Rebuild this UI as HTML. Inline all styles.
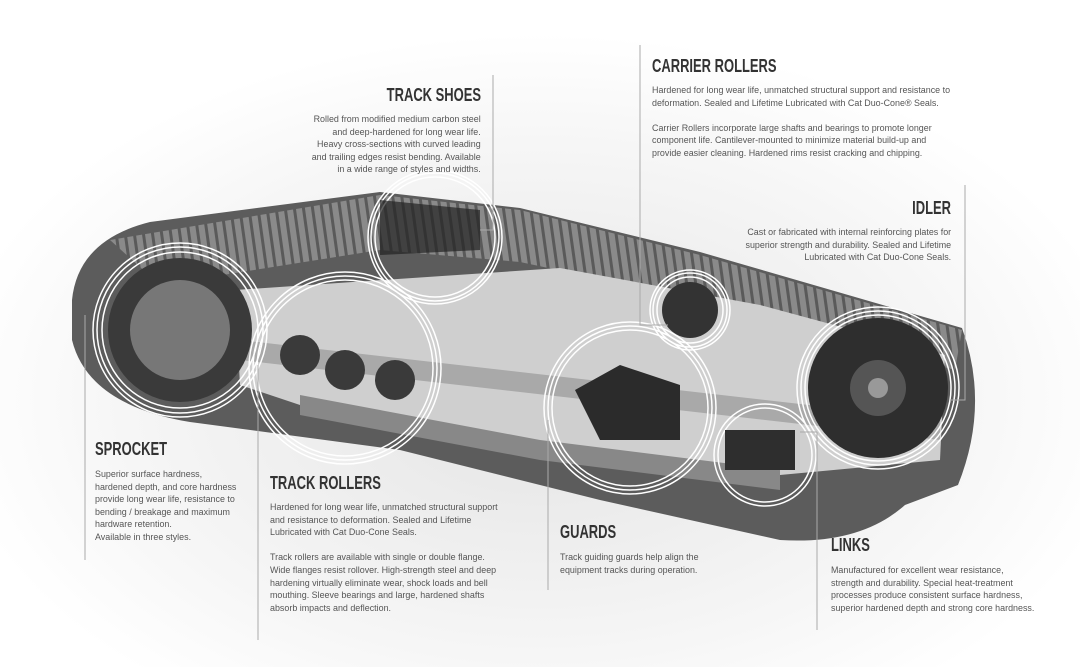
<!DOCTYPE html>
<html><head><meta charset="utf-8"><style>
body{margin:0;width:1080px;height:667px;overflow:hidden;background:#fff;position:relative;font-family:"Liberation Sans",sans-serif;color:#444}
svg{position:absolute;left:0;top:0}
.h{position:absolute;font-weight:bold;font-size:18px;color:#333;white-space:nowrap;transform:scaleX(.72);transform-origin:left top}
.b{position:absolute;font-size:9.6px;line-height:12.6px;color:#555;white-space:nowrap;transform:scaleX(.93);transform-origin:left top}
.r{text-align:right;transform-origin:right top}
</style></head><body>
<svg width="1080" height="667">
<defs>
<radialGradient id="bg" cx="50%" cy="60%" r="55%"><stop offset="0" stop-color="#e4e4e4"/><stop offset=".7" stop-color="#f6f6f6"/><stop offset="1" stop-color="#fff"/></radialGradient>
<pattern id="sh" width="9" height="40" patternUnits="userSpaceOnUse" patternTransform="rotate(-8)"><rect width="9" height="40" fill="#8a8a8a"/><rect width="3" height="40" fill="#5a5a5a"/></pattern>
</defs>
<rect width="1080" height="667" fill="url(#bg)"/>
<path d="M72,300 Q78,240 150,222 L380,192 L520,208 L700,252 L962,328 Q990,405 958,485 L905,505 Q860,545 780,540 L600,500 L400,450 L190,422 Q88,405 72,340 Z" fill="#5c5c5c"/>
<path d="M110,240 L380,195 L520,210 L700,255 L962,330 L955,370 L700,300 L520,262 L380,250 L160,285 Z" fill="url(#sh)"/>
<path d="M235,290 L560,268 L760,305 L945,355 L940,460 L780,475 L540,445 L300,405 L240,385 Z" fill="#cfcfcf"/>
<path d="M240,340 L940,420 L940,440 L240,360 Z" fill="#a9a9a9"/>
<path d="M300,395 L540,440 L780,470 L780,490 L540,460 L300,415Z" fill="#888"/>
<g fill="none" stroke="#fff" stroke-width="1.5">
<circle cx="180" cy="330" r="78"/><circle cx="180" cy="330" r="83"/><circle cx="180" cy="330" r="87"/>
<circle cx="435" cy="237" r="60"/><circle cx="435" cy="237" r="64"/><circle cx="435" cy="237" r="67"/>
<circle cx="690" cy="310" r="33"/><circle cx="690" cy="310" r="37"/><circle cx="690" cy="310" r="40"/>
<circle cx="345" cy="368" r="88"/><circle cx="345" cy="368" r="92"/><circle cx="345" cy="368" r="96"/>
<circle cx="630" cy="408" r="78"/><circle cx="630" cy="408" r="82"/><circle cx="630" cy="408" r="86"/>
<circle cx="878" cy="388" r="73"/><circle cx="878" cy="388" r="77"/><circle cx="878" cy="388" r="81"/>
<circle cx="765" cy="455" r="47"/><circle cx="765" cy="455" r="51"/>
</g>
<circle cx="180" cy="330" r="72" fill="#3a3a3a"/><circle cx="180" cy="330" r="50" fill="#777"/>
<circle cx="878" cy="388" r="70" fill="#2e2e2e"/><circle cx="878" cy="388" r="28" fill="#555"/><circle cx="878" cy="388" r="10" fill="#999"/>
<circle cx="690" cy="310" r="28" fill="#333"/>
<path d="M575,390 L620,365 L680,385 L680,440 L600,440 Z" fill="#2b2b2b"/>
<rect x="725" y="430" width="70" height="40" fill="#2e2e2e"/>
<g fill="#3a3a3a"><circle cx="300" cy="355" r="20"/><circle cx="345" cy="370" r="20"/><circle cx="395" cy="380" r="20"/></g>
<path d="M380,200 L480,210 L480,250 L380,255Z" fill="#222" opacity=".7"/>
<g fill="none" stroke="#aaa" stroke-width="1">
<path d="M85,315 V560"/><path d="M258,365 V640"/><path d="M493,75 V230 H480"/>
<path d="M640,45 V325 H668"/><path d="M965,185 V400 H950"/><path d="M548,420 V590"/><path d="M817,432 V630 M800,432 H817"/>
</g>
</svg>
<div class="h r" style="right:599px;top:85px">TRACK SHOES</div>
<div class="b r" style="right:599px;top:114px">Rolled from modified medium carbon steel<br>and deep-hardened for long wear life.<br>Heavy cross-sections with curved leading<br>and trailing edges resist bending. Available<br>in a wide range of styles and widths.</div>
<div class="h" style="left:652px;top:56px">CARRIER ROLLERS</div>
<div class="b" style="left:652px;top:85px">Hardened for long wear life, unmatched structural support and resistance to<br>deformation. Sealed and Lifetime Lubricated with Cat Duo-Cone® Seals.<br><br>Carrier Rollers incorporate large shafts and bearings to promote longer<br>component life. Cantilever-mounted to minimize material build-up and<br>provide easier cleaning. Hardened rims resist cracking and chipping.</div>
<div class="h r" style="right:129px;top:198px">IDLER</div>
<div class="b r" style="right:129px;top:227px">Cast or fabricated with internal reinforcing plates for<br>superior strength and durability. Sealed and Lifetime<br>Lubricated with Cat Duo-Cone Seals.</div>
<div class="h" style="left:95px;top:439px">SPROCKET</div>
<div class="b" style="left:95px;top:469px">Superior surface hardness,<br>hardened depth, and core hardness<br>provide long wear life, resistance to<br>bending / breakage and maximum<br>hardware retention.<br>Available in three styles.</div>
<div class="h" style="left:270px;top:473px">TRACK ROLLERS</div>
<div class="b" style="left:270px;top:502px">Hardened for long wear life, unmatched structural support<br>and resistance to deformation. Sealed and Lifetime<br>Lubricated with Cat Duo-Cone Seals.<br><br>Track rollers are available with single or double flange.<br>Wide flanges resist rollover. High-strength steel and deep<br>hardening virtually eliminate wear, shock loads and bell<br>mouthing. Sleeve bearings and large, hardened shafts<br>absorb impacts and deflection.</div>
<div class="h" style="left:560px;top:522px">GUARDS</div>
<div class="b" style="left:560px;top:552px">Track guiding guards help align the<br>equipment tracks during operation.</div>
<div class="h" style="left:831px;top:535px">LINKS</div>
<div class="b" style="left:831px;top:565px">Manufactured for excellent wear resistance,<br>strength and durability. Special heat-treatment<br>processes produce consistent surface hardness,<br>superior hardened depth and strong core hardness.</div>
</body></html>
